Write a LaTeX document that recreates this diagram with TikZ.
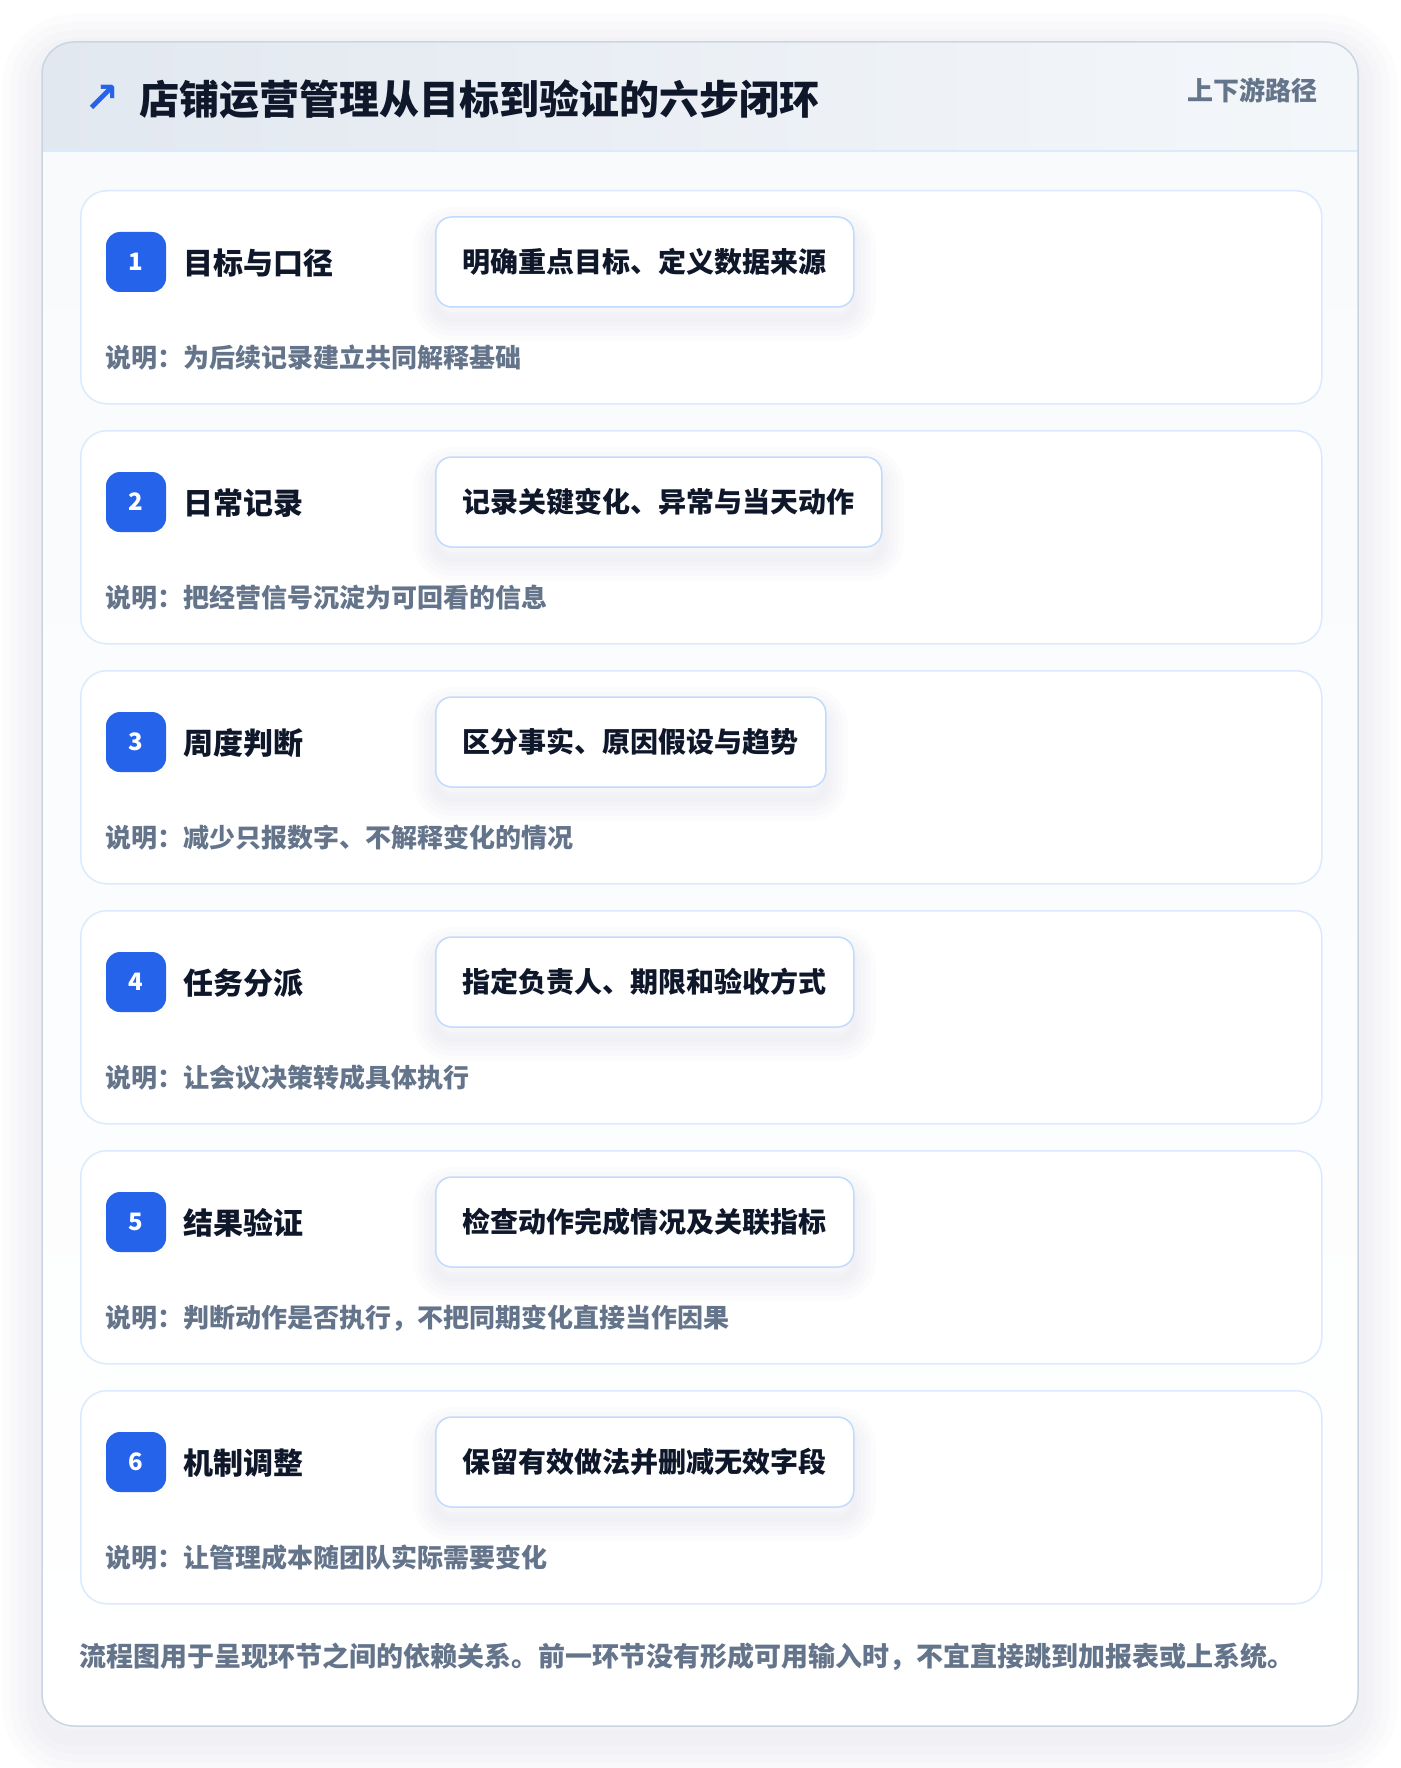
\documentclass[tikz,border=0pt]{standalone}
\usepackage{fontspec}
\setmainfont{Noto Sans CJK SC}
\newfontfamily\symfont{DejaVu Sans}

\definecolor{inkdark}{HTML}{0F172A}
\definecolor{inkgray}{HTML}{64748B}
\definecolor{badgeblue}{HTML}{2563EB}
\definecolor{cardline}{HTML}{CBD5E1}
\definecolor{headleft}{HTML}{E2E8F0}
\definecolor{headright}{HTML}{F4F7FA}
\definecolor{headline}{HTML}{DBEAFE}
\definecolor{bodytop}{HTML}{F8FAFC}
\definecolor{stepline}{HTML}{DBEAFE}
\definecolor{boxline}{HTML}{BFDBFE}
\definecolor{shadowcol}{HTML}{334155}

\tikzset{
  softshade/.style={preaction={draw=shadowcol, draw opacity=0.011, line width=#1,
    transform canvas={yshift=-12pt}}},
  stepcard/.style={draw=stepline, line width=1.5pt, fill=white, rounded corners=26pt,
    minimum width=1241pt, minimum height=213pt, anchor=north west, inner sep=0pt},
  badge/.style={fill=badgeblue, rounded corners=14pt, minimum width=60pt, minimum height=60pt,
    inner sep=0pt, text=white, font=\fontsize{24}{24}\selectfont\bfseries},
  steptitle/.style={anchor=west, inner sep=0pt, text=inkdark, font=\fontsize{30}{30}\selectfont\bfseries},
  actionbox/.style={anchor=west, draw=boxline, line width=1.5pt, fill=white, rounded corners=16pt,
    minimum height=90pt, inner xsep=27pt, text=inkdark, font=\fontsize{28}{28}\selectfont\bfseries,
    softshade=44pt, softshade=34pt, softshade=24pt, softshade=14pt, softshade=6pt},
  notetext/.style={anchor=west, inner sep=0pt, text=inkgray, font=\fontsize{26}{26}\selectfont\bfseries}
}

\begin{document}
\begin{tikzpicture}[x=1pt,y=-1pt]
  \fill[white] (0,0) rectangle (1400,1768);

  % outer card with header
  \foreach \w in {80,64,48,32,16}
    \draw[shadowcol, draw opacity=0.012, line width=\w pt, rounded corners=32pt,
      transform canvas={yshift=-12pt}] (42,42) rectangle (1358,1726);
  \fill[white, rounded corners=32pt] (42,42) rectangle (1358,1726);
  \begin{scope}
    \clip[rounded corners=32pt] (42,42) rectangle (1358,1726);
    \shade[left color=headleft, right color=headright] (42,42) rectangle (1358,151);
    \shade[top color=bodytop, bottom color=white] (42,151) rectangle (1358,1726);
    \draw[headline, line width=2pt] (42,151) -- (1358,151);
  \end{scope}
  \draw[cardline, line width=1.5pt, rounded corners=32pt] (42,42) rectangle (1358,1726);

  \node[text=badgeblue, inner sep=0pt, font=\symfont\bfseries\fontsize{42}{42}\selectfont] (icon) at (102,99) {↗};
  \node[anchor=west, inner sep=0pt, text=inkdark, font=\fontsize{40}{40}\selectfont\bfseries] (title) at (139,99)
    {店铺运营管理从目标到验证的六步闭环};
  \node[anchor=east, inner sep=0pt, text=inkgray, font=\fontsize{26}{26}\selectfont\bfseries] (tag) at (1318,90)
    {上下游路径};

  % step 1
  \node[stepcard] (card1) at (80,190) {};
  \node[badge] (num1) at (136,262) {1};
  \node[steptitle] (name1) at (183,263) {目标与口径};
  \node[actionbox] (act1) at (435,262) {明确重点目标、定义数据来源};
  \node[notetext] (note1) at (105,358) {说明：为后续记录建立共同解释基础};

  % step 2
  \node[stepcard] (card2) at (80,430) {};
  \node[badge] (num2) at (136,502) {2};
  \node[steptitle] (name2) at (183,503) {日常记录};
  \node[actionbox] (act2) at (435,502) {记录关键变化、异常与当天动作};
  \node[notetext] (note2) at (105,598) {说明：把经营信号沉淀为可回看的信息};

  % step 3
  \node[stepcard] (card3) at (80,670) {};
  \node[badge] (num3) at (136,742) {3};
  \node[steptitle] (name3) at (183,743) {周度判断};
  \node[actionbox] (act3) at (435,742) {区分事实、原因假设与趋势};
  \node[notetext] (note3) at (105,838) {说明：减少只报数字、不解释变化的情况};

  % step 4
  \node[stepcard] (card4) at (80,910) {};
  \node[badge] (num4) at (136,982) {4};
  \node[steptitle] (name4) at (183,983) {任务分派};
  \node[actionbox] (act4) at (435,982) {指定负责人、期限和验收方式};
  \node[notetext] (note4) at (105,1078) {说明：让会议决策转成具体执行};

  % step 5
  \node[stepcard] (card5) at (80,1150) {};
  \node[badge] (num5) at (136,1222) {5};
  \node[steptitle] (name5) at (183,1223) {结果验证};
  \node[actionbox] (act5) at (435,1222) {检查动作完成情况及关联指标};
  \node[notetext] (note5) at (105,1318) {说明：判断动作是否执行，不把同期变化直接当作因果};

  % step 6
  \node[stepcard] (card6) at (80,1390) {};
  \node[badge] (num6) at (136,1462) {6};
  \node[steptitle] (name6) at (183,1463) {机制调整};
  \node[actionbox] (act6) at (435,1462) {保留有效做法并删减无效字段};
  \node[notetext] (note6) at (105,1558) {说明：让管理成本随团队实际需要变化};

  \node[anchor=west, inner sep=0pt, text=inkgray, font=\fontsize{27}{27}\selectfont\bfseries] (footer) at (79,1657)
    {流程图用于呈现环节之间的依赖关系。前一环节没有形成可用输入时，不宜直接跳到加报表或上系统。};
\end{tikzpicture}
\end{document}
